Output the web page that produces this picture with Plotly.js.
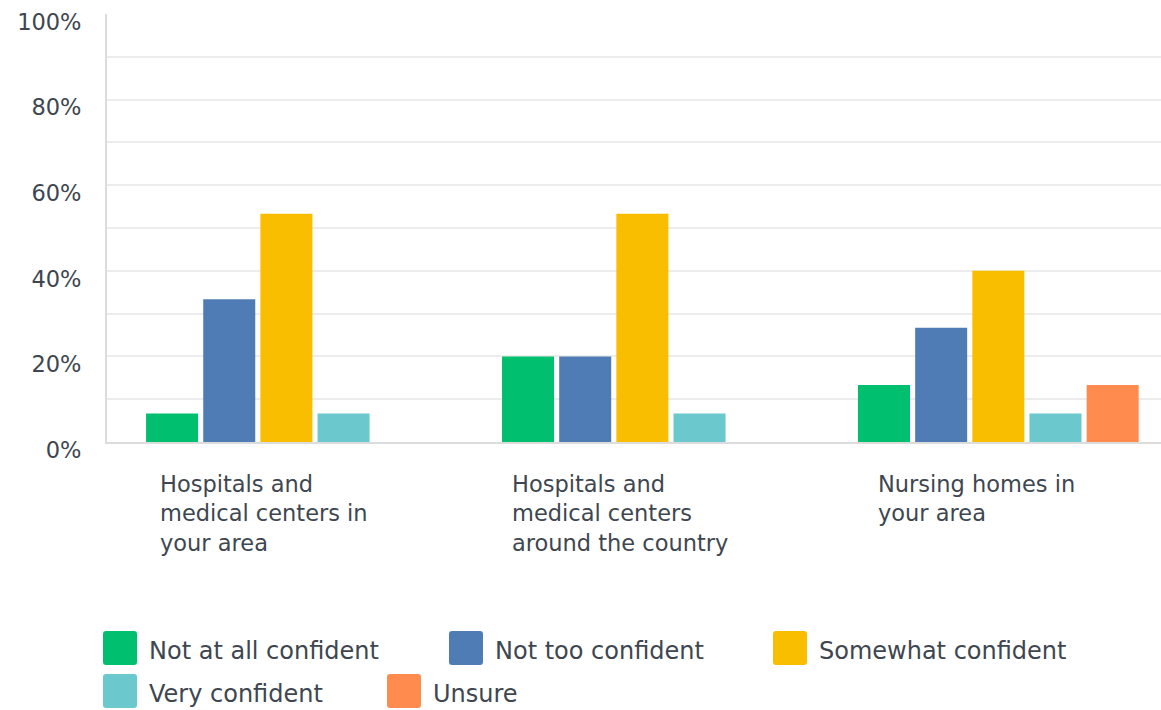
<!DOCTYPE html>
<html>
<head>
<meta charset="utf-8">
<script src="https://cdn.plot.ly/plotly-3.0.1.min.js"></script>
<style>
  html, body { margin: 0; padding: 0; background: #ffffff; overflow: hidden; }
  #chart { width: 1161px; height: 710px; }
</style>
</head>
<body>
<div id="chart"></div>
<script>
// ---- data ----
const categories = [
  "Hospitals and medical centers in your area",
  "Hospitals and medical centers around the country",
  "Nursing homes in your area"
];
const categoryLabels = [
  "Hospitals and<br>medical centers in<br>your area",
  "Hospitals and<br>medical centers<br>around the country",
  "Nursing homes in<br>your area"
];
const seriesNames = ["Not at all confident", "Not too confident", "Somewhat confident", "Very confident", "Unsure"];
const notAtAllConfident = [6.67, 20.0, 13.33];
const notTooConfident   = [33.33, 20.0, 26.67];
const somewhatConfident = [53.33, 53.33, 40.0];
const veryConfident     = [6.67, 6.67, 6.67];
const unsure            = [0, 0, 13.33];
const seriesColors = ["#00BF6F", "#507CB6", "#F9BE00", "#6BC8CD", "#FF8B4F"];
const yTickVals = [0, 20, 40, 60, 80, 100];
const yTickText = ["0%", "20%", "40%", "60%", "80%", "100%"];

// ---- layout constants ----
const W = 1161, H = 710;
const M = { l: 107, r: 0, t: 14, b: 268 };
const PW = W - M.l - M.r, PH = H - M.t - M.b;
const FONT = "'DejaVu Sans', Verdana, sans-serif";
const TXT = "#3e4650";
const px2x = px => (px - M.l) / PW;
const py2y = py => (H - M.b - py) / PH;

const seriesValues = [notAtAllConfident, notTooConfident, somewhatConfident, veryConfident, unsure];
const traces = seriesValues.map((vals, i) => ({
  type: "bar",
  name: seriesNames[i],
  x: categories,
  y: vals,
  marker: { color: seriesColors[i] },
  showlegend: false,
  hoverinfo: "skip"
}));

// category labels (left-aligned blocks under each group)
const annotations = categories.map((c, i) => ({
  xref: "x", yref: "paper",
  x: c, y: py2y(469),
  xanchor: "center", yanchor: "top",
  xshift: -22,
  align: "left",
  showarrow: false,
  text: categoryLabels[i],
  font: { family: FONT, size: 22.5, color: TXT }
}));

// custom legend (large rounded squares)
const legendSlots = [[103, 631], [449, 631], [773, 631], [103, 674], [387, 674]];
const SQ = 34, RAD = 3;
const shapes = [];
seriesNames.forEach((name, i) => {
  const [lx, ty] = legendSlots[i];
  const x0 = px2x(lx), x1 = px2x(lx + SQ);
  const y0 = py2y(ty + SQ), y1 = py2y(ty);
  const rx = RAD / PW, ry = RAD / PH;
  const path = `M${x0 + rx},${y1} L${x1 - rx},${y1} Q${x1},${y1} ${x1},${y1 - ry} ` +
               `L${x1},${y0 + ry} Q${x1},${y0} ${x1 - rx},${y0} L${x0 + rx},${y0} ` +
               `Q${x0},${y0} ${x0},${y0 + ry} L${x0},${y1 - ry} Q${x0},${y1} ${x0 + rx},${y1} Z`;
  shapes.push({
    type: "path", xref: "paper", yref: "paper", path: path,
    fillcolor: seriesColors[i], line: { width: 0 }, layer: "above"
  });
  annotations.push({
    xref: "paper", yref: "paper",
    x: px2x(lx + SQ + 10), y: py2y(ty + SQ / 2 + 3),
    xanchor: "left", yanchor: "middle",
    showarrow: false, align: "left",
    text: name,
    font: { family: FONT, size: 24, color: TXT }
  });
});

const layout = {
  width: W, height: H,
  margin: M,
  paper_bgcolor: "#ffffff",
  plot_bgcolor: "#ffffff",
  barmode: "group",
  bargap: 0.197,
  bargroupgap: 0.09,
  showlegend: false,
  font: { family: FONT, size: 22.5, color: TXT },
  xaxis: {
    type: "category",
    range: [-0.504, 2.457],
    showticklabels: false,
    showgrid: false,
    zeroline: false,
    showline: true, linecolor: "#dcdcdc", linewidth: 2,
    ticks: "",
    fixedrange: true
  },
  yaxis: {
    range: [0, 100],
    tickmode: "array",
    tickvals: yTickVals,
    ticktext: yTickText,
    showgrid: true, gridcolor: "#ececec", gridwidth: 2,
    minor: { tickmode: "array", tickvals: [10, 30, 50, 70, 90], showgrid: true, gridcolor: "#ececec", gridwidth: 2, ticks: "" },
    zeroline: false,
    showline: true, linecolor: "#dcdcdc", linewidth: 2,
    ticks: "",
    ticklabelstandoff: 19,
    ticklabelshift: 8,
    tickfont: { family: FONT, size: 22.5, color: TXT },
    fixedrange: true
  },
  shapes: shapes,
  annotations: annotations
};

Plotly.newPlot("chart", traces, layout, { staticPlot: true, displayModeBar: false });
</script>
</body>
</html>
